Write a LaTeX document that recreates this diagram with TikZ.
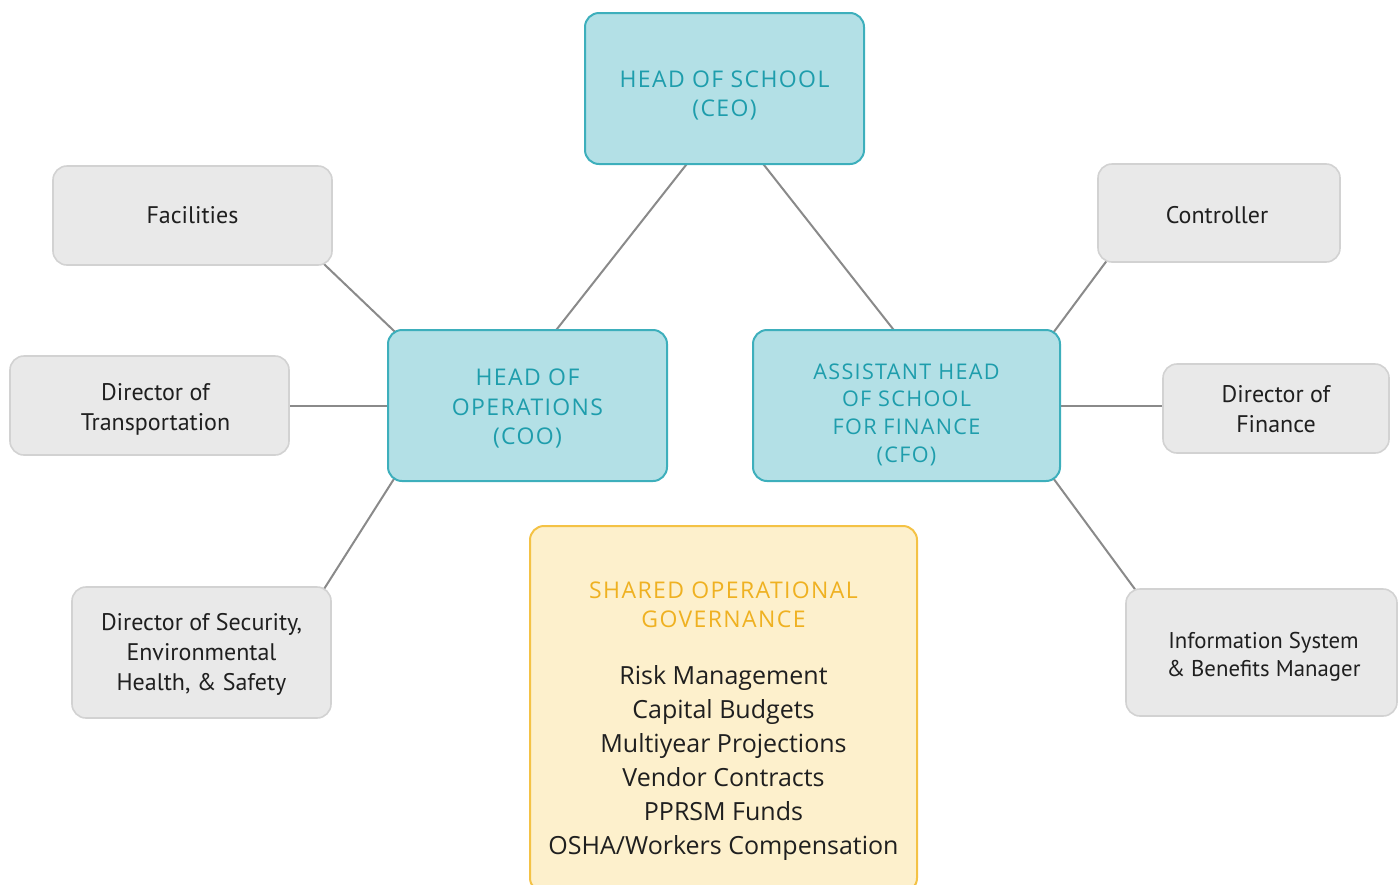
\documentclass[tikz,border=0pt]{standalone}
\usepackage{fontspec}
\setmainfont{Open Sans}
\newfontfamily\headfont[LetterSpace=6]{Open Sans}
\newfontfamily\boxfont{PT Sans}
\usetikzlibrary{backgrounds}
\definecolor{tealfill}{HTML}{B3E0E6}
\definecolor{tealline}{HTML}{3DAFBC}
\definecolor{tealtext}{HTML}{1E9DAC}
\definecolor{greyfill}{HTML}{E9E9E9}
\definecolor{greyline}{HTML}{D2D2D2}
\definecolor{goldfill}{HTML}{FDF0CC}
\definecolor{goldline}{HTML}{F4C245}
\definecolor{goldtext}{HTML}{EFB121}
\definecolor{linkgrey}{HTML}{8A8A8A}
\tikzset{
  lead/.style={draw=tealline, fill=tealfill, line width=1pt, rounded corners=7pt, inner sep=0pt},
  leadtext/.style={text=tealtext, align=center, inner sep=0pt,
    font=\headfont\fontsize{11.5}{14.6}\selectfont},
  staff/.style={draw=greyline, fill=greyfill, line width=0.8pt, rounded corners=7pt, inner sep=0pt},
  stafftext/.style={text=black!88, align=center, inner sep=0pt,
    font=\boxfont\fontsize{12}{15}\selectfont},
  shared/.style={draw=goldline, fill=goldfill, line width=1pt, rounded corners=7pt, inner sep=0pt},
  link/.style={draw=linkgrey, line width=1pt, shorten <=-4pt, shorten >=-4pt},
}
\begin{document}
\begin{tikzpicture}[x=0.5pt, y=-0.5pt]
\useasboundingbox (0,0) rectangle (1400,884);

% executive boxes
\node[lead, minimum width=139.5pt, minimum height=75.5pt] (ceo) at (724.5,88.5) {};
\node[leadtext, yshift=-3.5pt] (ceotext) at (ceo) {HEAD OF SCHOOL\\(CEO)};
\node[lead, minimum width=139.5pt, minimum height=75.5pt] (coo) at (527.5,405.5) {};
\node[leadtext, yshift=-1.5pt] (cootext) at (coo) {HEAD OF\\OPERATIONS\\(COO)};
\node[lead, minimum width=153.5pt, minimum height=75.5pt] (cfo) at (906.5,405.5) {};
\node[leadtext, yshift=-4.5pt, font=\headfont\fontsize{10.8}{13.8}\selectfont] (cfotext) at (cfo)
  {ASSISTANT HEAD\\OF SCHOOL\\FOR FINANCE\\(CFO)};

% operations staff
\node[staff, minimum width=139.5pt, minimum height=49.5pt] (fac) at (192.5,215.5) {};
\node[stafftext] (factext) at (fac) {Facilities};
\node[staff, minimum width=139.5pt, minimum height=49.5pt] (trans) at (149.5,405.5) {};
\node[stafftext, xshift=3pt, yshift=-2pt] (transtext) at (trans) {Director of\\Transportation};
\node[staff, minimum width=129.5pt, minimum height=65.5pt] (sec) at (201.5,652.5) {};
\node[stafftext, yshift=-1pt] (sectext) at (sec)
  {Director of Security,\\Environmental\\Health, \& Safety};

% finance staff
\node[staff, minimum width=121pt, minimum height=49pt] (ctrl) at (1219,213) {};
\node[stafftext, yshift=-1pt, xshift=-1pt] (ctrltext) at (ctrl) {Controller};
\node[staff, minimum width=113pt, minimum height=44.5pt] (fin) at (1276,408.5) {};
\node[stafftext, yshift=-0.5pt] (fintext) at (fin) {Director of\\Finance};
\node[staff, minimum width=135.5pt, minimum height=63.5pt] (info) at (1261.5,652.5) {};
\node[stafftext, yshift=-2pt, xshift=1pt, font=\boxfont\fontsize{11.4}{13.8}\selectfont] (infotext) at (info)
  {Information System\\\& Benefits Manager};

% shared governance panel
\node[shared, minimum width=193.5pt, minimum height=183pt] (gov) at (723.5,709) {};
\node[text=goldtext, align=center, font=\headfont\fontsize{11.5}{14.6}\selectfont]
  (govhead) at (723.5,604.5) {SHARED OPERATIONAL\\GOVERNANCE};
\node[text=black!88, align=center, font=\fontsize{12.5}{17}\selectfont]
  (govlist) at (723.5,762.5)
  {Risk Management\\Capital Budgets\\Multiyear Projections\\Vendor Contracts\\PPRSM Funds\\OSHA/Workers Compensation};

% reporting lines
\begin{scope}[on background layer]
  \draw[link] ([xshift=-19.25pt]ceo.south) -- ([xshift=14.75pt]coo.north);
  \draw[link] ([xshift=19.75pt]ceo.south) -- ([xshift=-6.75pt]cfo.north);
  \draw[link] ([xshift=-3.5pt]fac.south east) -- ([xshift=2.5pt]coo.north west);
  \draw[link] (trans.east) -- (coo.west);
  \draw[link] ([xshift=-3pt]sec.north east) -- ([xshift=2.5pt]coo.south west);
  \draw[link] ([xshift=4pt]ctrl.south west) -- ([xshift=-2.5pt]cfo.north east);
  \draw[link] (cfo.east) -- (cfo.east -| fin.west);
  \draw[link] ([xshift=-2.5pt]cfo.south east) -- ([xshift=4.5pt]info.north west);
\end{scope}
\end{tikzpicture}
\end{document}
